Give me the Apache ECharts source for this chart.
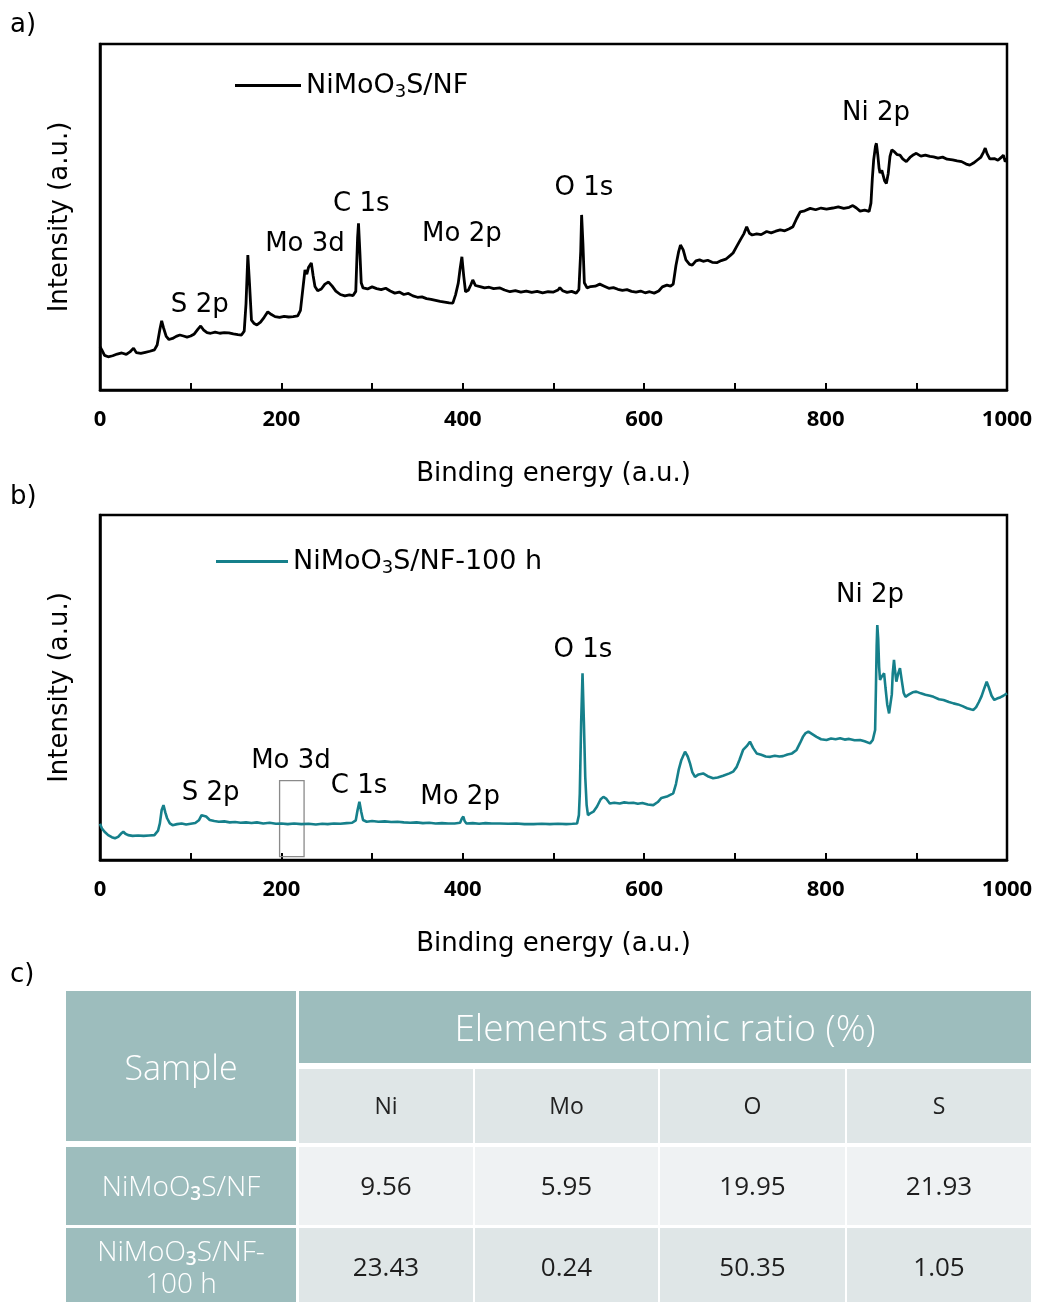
<!DOCTYPE html>
<html>
<head>
<meta charset="utf-8">
<script src="https://cdn.jsdelivr.net/npm/echarts@6/dist/echarts.min.js"></script>
<style>
  html, body { margin: 0; padding: 0; background: #fff; }
  #chart { width: 1041px; height: 1302px; }
</style>
</head>
<body>
<div id="chart"></div>
<script>
// ---- XPS survey spectra: [binding energy, intensity (a.u.)] ----
const surveyFresh = [
  [0, 12.5], [2, 11.6], [5, 10.0], [9, 9.6], [14, 9.9], [19, 10.4], [24, 10.7], [29, 10.3], [33, 11.0], [37, 12.1],
  [40, 10.8], [45, 10.6], [50, 10.9], [55, 11.2], [60, 11.6], [63, 13.0], [66, 17.5], [68, 20.0], [70, 18.0], [73, 15.5],
  [76, 14.6], [80, 14.9], [84, 15.5], [88, 15.9], [92, 15.6], [96, 15.3], [100, 15.6], [104, 16.2], [108, 17.6], [111, 18.5],
  [114, 17.4], [118, 16.6], [122, 16.4], [127, 16.7], [132, 16.4], [137, 16.6], [142, 16.5], [147, 16.2], [152, 16.0], [156, 15.9],
  [159, 17.0], [161, 25.0], [163, 39.0], [165, 30.0], [167, 20.2], [170, 19.2], [173, 18.8], [177, 19.6], [181, 21.0], [185, 22.6],
  [189, 21.8], [193, 21.2], [198, 21.0], [203, 21.3], [208, 21.1], [213, 21.2], [218, 21.4], [221, 23.0], [224, 30.0], [226, 34.7],
  [228, 33.5], [230, 35.5], [233, 36.7], [235, 33.0], [237, 29.9], [240, 28.7], [244, 29.2], [248, 30.6], [252, 31.2], [256, 30.0],
  [260, 28.6], [265, 27.6], [270, 27.2], [275, 27.5], [279, 27.3], [282, 28.5], [284, 44.0], [285, 48.2], [286.5, 40.0], [288, 31.0],
  [290, 29.5], [295, 29.2], [300, 29.8], [305, 29.3], [310, 29.0], [315, 29.4], [320, 28.6], [325, 28.0], [330, 28.3], [335, 27.6],
  [340, 27.9], [345, 27.2], [350, 26.8], [355, 26.9], [360, 26.4], [365, 26.2], [370, 25.9], [375, 25.6], [380, 25.4], [385, 25.2],
  [389, 25.1], [392, 27.5], [395, 30.9], [397, 35.0], [399, 38.5], [401, 33.0], [403, 28.4], [406, 28.8], [409, 30.5], [411, 31.8],
  [414, 30.2], [419, 29.9], [424, 29.5], [429, 29.7], [434, 29.3], [441, 29.5], [446, 28.9], [452, 28.4], [458, 28.7], [464, 28.3],
  [470, 28.6], [476, 28.2], [482, 28.5], [488, 28.1], [494, 28.4], [500, 28.3], [505, 28.9], [507, 29.6], [510, 28.7], [515, 28.2],
  [520, 28.5], [525, 28.0], [528, 29.0], [530, 40.0], [531, 50.6], [532.5, 42.0], [534, 31.0], [537, 29.5], [541, 29.9], [546, 30.0],
  [551, 30.6], [556, 30.0], [561, 29.4], [566, 29.6], [571, 29.1], [576, 28.8], [581, 29.0], [586, 28.5], [591, 28.3], [596, 28.6],
  [601, 28.1], [606, 28.4], [611, 28.0], [616, 28.6], [620, 29.8], [625, 30.3], [629, 30.0], [632, 30.6], [635, 36.0], [638, 40.0],
  [640, 41.9], [643, 40.5], [646, 37.6], [650, 36.3], [653, 36.1], [657, 37.3], [661, 37.6], [665, 37.2], [670, 37.5], [675, 36.9],
  [680, 36.8], [685, 37.4], [690, 37.8], [695, 38.9], [698, 39.6], [702, 41.5], [706, 43.4], [710, 45.2], [713, 47.2], [716, 45.3],
  [719, 44.8], [724, 45.1], [729, 44.9], [735, 45.8], [740, 45.4], [745, 45.9], [750, 46.3], [755, 46.0], [760, 46.6], [764, 47.2],
  [768, 49.5], [772, 51.5], [777, 51.8], [783, 52.5], [789, 52.1], [795, 52.6], [801, 52.3], [808, 52.6], [814, 52.9], [820, 52.5],
  [826, 52.8], [830, 53.3], [832, 53.8], [834, 52.6], [838, 51.7], [843, 52.0], [848, 51.6], [850, 54.0], [851.5, 61.0], [853, 66.5],
  [855, 70.5], [856, 71.3], [857.5, 68.0], [859, 64.0], [860, 62.7], [862, 63.5], [865, 60.5], [867, 59.7], [869, 62.5], [871, 67.5],
  [873, 69.4], [876, 68.8], [879, 68.0], [882, 67.9], [885, 66.8], [889, 66.0], [893, 67.2], [897, 68.0], [900, 68.4], [905, 67.6],
  [910, 67.9], [915, 67.5], [919, 67.4], [924, 67.0], [929, 67.3], [934, 66.7], [940, 66.5], [945, 66.2], [950, 66.0], [955, 65.3],
  [959, 65.0], [963, 65.6], [967, 66.4], [971, 67.2], [974, 68.7], [976, 69.9], [978, 68.3], [981, 66.8], [983, 66.5], [986, 66.9],
  [990, 66.4], [994, 67.3], [996, 67.9], [998, 66.0], [1000, 66.8]
];

const surveyAged = [
  [0, 10.5], [2, 9.2], [5, 8.2], [9, 7.2], [13, 6.6], [16.5, 6.3], [20, 6.7], [23, 7.6], [25.7, 8.2], [28, 7.6],
  [31, 7.2], [36, 7.0], [42, 7.1], [48, 7.0], [54, 7.1], [60, 7.2], [64, 8.5], [66, 10.6], [68, 14.5], [70, 15.9],
  [72, 13.8], [74, 12.1], [77, 10.6], [80, 10.1], [85, 10.4], [90, 10.6], [95, 10.3], [100, 10.5], [105, 10.7], [109, 11.5],
  [112, 13.0], [114, 13.5], [117, 12.6], [121, 11.6], [126, 11.3], [131, 11.1], [137, 11.2], [143, 10.9], [149, 11.0], [155, 10.8],
  [161, 10.9], [167, 10.7], [173, 10.9], [180, 10.6], [187, 10.8], [194, 10.5], [200, 10.6], [207, 10.4], [214, 10.6], [222, 10.4],
  [230, 10.5], [238, 10.3], [245, 10.5], [251, 10.4], [258, 10.6], [265, 10.5], [272, 10.7], [278, 10.8], [282, 11.5], [284, 14.5],
  [286, 16.9], [288, 14.0], [290, 11.6], [294, 11.1], [300, 11.3], [307, 11.1], [314, 11.2], [321, 11.0], [328, 11.1], [335, 10.9],
  [342, 10.8], [349, 10.9], [356, 10.7], [363, 10.8], [370, 10.6], [377, 10.7], [384, 10.6], [391, 10.6], [397, 10.8], [399, 12.0],
  [400.6, 12.6], [402, 11.3], [404, 10.6], [411, 10.7], [418, 10.5], [425, 10.7], [432, 10.6], [441, 10.6], [450, 10.5], [459, 10.6],
  [468, 10.4], [478, 10.4], [487, 10.5], [496, 10.4], [505, 10.5], [514, 10.4], [521, 10.5], [526, 10.6], [528, 13.0], [529, 19.3],
  [530.5, 40.0], [532, 54.1], [533.5, 40.0], [535, 24.1], [536.5, 16.0], [538, 13.0], [541, 13.6], [544, 14.0], [548, 15.5], [552, 17.6],
  [555, 18.3], [558, 17.8], [562, 16.4], [567, 16.6], [573, 16.4], [578, 16.7], [583, 16.5], [588, 16.6], [593, 16.3], [598, 16.5],
  [604, 16.1], [610, 15.9], [615, 16.8], [619, 18.0], [621, 18.3], [626, 18.5], [632, 19.3], [635, 22.0], [638, 26.1], [641, 29.0],
  [645, 31.4], [648, 30.0], [650.5, 28.0], [653, 25.5], [656, 24.1], [660, 24.8], [665, 25.1], [670, 24.3], [676, 23.7], [681, 23.9],
  [687, 24.4], [694, 25.1], [698, 25.6], [702, 27.0], [705, 29.0], [709, 31.9], [713, 33.0], [716.6, 34.3], [720, 32.5], [724, 30.9],
  [729, 30.5], [734, 30.0], [739, 29.9], [744, 30.2], [749, 30.0], [753, 30.1], [758, 30.6], [763, 30.9], [768, 31.9], [772, 34.0],
  [775, 35.7], [778, 36.8], [781, 37.2], [784, 36.7], [787, 36.2], [790, 35.7], [795, 35.0], [801, 34.8], [806, 35.2], [811, 35.0],
  [816, 35.3], [821, 34.9], [826, 35.1], [832, 34.7], [838, 34.8], [843, 34.4], [849, 33.8], [852, 34.8], [854.6, 37.7], [855.5, 50.0],
  [856.3, 62.0], [857, 68.1], [858, 64.0], [859, 56.0], [860, 52.2], [862, 53.2], [864.5, 54.1], [866, 50.0], [868, 45.0], [870, 42.5],
  [871.7, 42.0], [873, 48.0], [874, 54.0], [875.4, 58.0], [876.5, 55.0], [878, 51.7], [880, 54.0], [882, 55.6], [884, 52.0], [886, 48.5],
  [888, 47.3], [892, 48.0], [896, 48.6], [900, 48.8], [905, 48.3], [910, 47.9], [915, 47.6], [919, 47.3], [925, 46.6], [930, 46.4],
  [936, 45.8], [941, 45.4], [946, 45.1], [951, 44.6], [956, 44.0], [960, 43.7], [963, 43.5], [966, 44.3], [969, 45.8], [972, 47.5],
  [975, 49.8], [977.6, 51.7], [980, 50.0], [983, 47.6], [986, 46.4], [989, 46.8], [993, 47.2], [996, 47.6], [1000, 48.3]
];

// Peak assignments: [label, binding energy, intensity]
const peaksFresh = [
  ['S 2p', 110, 24.6], ['Mo 3d', 226, 42.0], ['C 1s', 288, 53.6],
  ['Mo 2p', 399, 45.0], ['O 1s', 533.6, 58.3], ['Ni 2p', 855.6, 80.0]
];
const peaksAged = [
  ['S 2p', 122, 19.3], ['Mo 3d', 210.6, 28.5], ['C 1s', 285.6, 21.3],
  ['Mo 2p', 397, 18.1], ['O 1s', 532.5, 60.7], ['Ni 2p', 849, 76.8]
];
// Highlighted (vanished) Mo 3d window in the aged sample: [E start, E end, I low, I high]
const mo3dWindow = [198, 225, 1, 23];

const seriesNames = ['NiMoO3S/NF', 'NiMoO3S/NF-100 h'];
const energyTicks = [0, 200, 400, 600, 800, 1000];

// ---- Surface composition table ----
const tableSamples = ['NiMoO3S/NF', 'NiMoO3S/NF-100 h'];
const tableElements = ['Ni', 'Mo', 'O', 'S'];
const atomicRatio = [
  [9.56, 5.95, 19.95, 21.93],
  [23.43, 0.24, 50.35, 1.05]
];

const PLOT_FONT = '"DejaVu Sans", "Noto Sans", sans-serif';
const TICK_FONT = '"Open Sans", "Noto Sans", sans-serif';
const TABLE_FONT = '"Open Sans", "Noto Sans", sans-serif';
const TEAL = '#16808b';

function chemRich(name, style) {
  // write the "3" of "O3" as a subscript
  const parts = name.split('O3');
  return '{' + style + '|' + parts[0] + 'O}{s|3}{' + style + '|' + parts[1] + '}';
}

function xAxisOf(gi) {
  return {
    gridIndex: gi, type: 'value', min: 0, max: 1000, interval: 200,
    axisLine: { show: true, onZero: false, lineStyle: { color: '#000', width: 2.5 } },
    axisTick: { show: true, inside: true, length: 7, lineStyle: { color: '#000', width: 2 } },
    minorTick: { show: true, splitNumber: 2, length: 7, lineStyle: { color: '#000', width: 2 } },
    splitLine: { show: false },
    axisLabel: {
      color: '#000', fontSize: 22, fontWeight: 'bold', fontFamily: TICK_FONT, margin: 19,
      formatter: v => energyTicks.indexOf(v) >= 0 ? String(v) : ''
    },
    name: 'Binding energy (a.u.)', nameLocation: 'middle', nameGap: 71,
    nameTextStyle: { color: '#000', fontSize: 26, fontFamily: PLOT_FONT }
  };
}
function yAxisOf(gi) {
  return {
    gridIndex: gi, type: 'value', min: 0, max: 100,
    axisLine: { show: true, lineStyle: { color: '#000', width: 2.5 } },
    axisTick: { show: false }, axisLabel: { show: false }, splitLine: { show: false },
    name: 'Intensity (a.u.)', nameLocation: 'middle', nameGap: 27, nameRotate: 90,
    nameTextStyle: { color: '#000', fontSize: 26, fontFamily: PLOT_FONT }
  };
}
function peakMarks(peaks) {
  return {
    silent: true,
    symbol: 'circle', symbolSize: 1,
    itemStyle: { color: 'rgba(0,0,0,0)' },
    label: { show: true, position: 'inside', color: '#000', fontSize: 26, fontFamily: PLOT_FONT, formatter: p => p.name },
    data: peaks.map(p => ({ name: p[0], coord: [p[1], p[2]] }))
  };
}
const legendRich = {
  n: { fontSize: 27, fontFamily: PLOT_FONT, color: '#000', lineHeight: 32 },
  s: { fontSize: 18, fontFamily: PLOT_FONT, color: '#000', verticalAlign: 'bottom', lineHeight: 22 }
};

// ---- table drawn as graphic elements ----
const tbl = [];
const colX = [[66, 296], [299, 473], [475, 658], [660, 845], [847, 1031]];
const HEAD = '#9dbdbd', SUB = '#dfe6e7', ROW1 = '#eff2f3', ROW2 = '#dfe6e7';
function cell(x0, y0, x1, y1, fill) {
  tbl.push({ type: 'rect', silent: true, shape: { x: x0, y: y0, width: x1 - x0, height: y1 - y0 }, style: { fill: fill } });
}
function label(x, y, text, size, color, rich, weight) {
  tbl.push({
    type: 'text', silent: true, x: x, y: y,
    style: { text: text, fill: color, fontSize: size, fontFamily: TABLE_FONT, fontWeight: weight || 'normal',
             align: 'center', verticalAlign: 'middle', rich: rich }
  });
}
// header
cell(66, 991, 296, 1141, HEAD);
label(181, 1070, 'Sample', 34, '#fff', null, 300);
cell(299, 991, 1031, 1063, HEAD);
label(665, 1030, 'Elements atomic ratio (%)', 37, '#fff', null, 300);
tableElements.forEach((el, i) => {
  const c = colX[i + 1];
  cell(c[0], 1069, c[1], 1143, SUB);
  label((c[0] + c[1]) / 2, 1107, el, 23, '#222', null, 'normal');
});
// body rows
const rowY = [[1147, 1225], [1228, 1310]];
const sampleRich = {
  n: { fontSize: 28, fontFamily: TABLE_FONT, fontWeight: 300, fill: '#fff', lineHeight: 32 },
  s: { fontSize: 19, fontFamily: TABLE_FONT, fontWeight: 600, fill: '#fff', verticalAlign: 'bottom', lineHeight: 22 }
};
tableSamples.forEach((name, r) => {
  const y = rowY[r];
  const yc = r === 0 ? 1188 : 1269;
  cell(colX[0][0], y[0], colX[0][1], y[1], HEAD);
  let txt;
  if (name.indexOf('-') >= 0) {
    const k = name.indexOf('-') + 1;
    txt = chemRich(name.slice(0, k), 'n') + '\n{n|' + name.slice(k) + '}';
  } else {
    txt = chemRich(name, 'n');
  }
  label(181, yc, txt, 28, '#fff', sampleRich);
  atomicRatio[r].forEach((v, i) => {
    const c = colX[i + 1];
    cell(c[0], y[0], c[1], y[1], r === 0 ? ROW1 : ROW2);
    label((c[0] + c[1]) / 2, yc, v.toFixed(2), 26, '#1e1e1e', null, 'normal');
  });
});
// panel tags
['a)', 'b)', 'c)'].forEach((t, i) => {
  tbl.push({ type: 'text', silent: true, x: 10, y: [25, 497, 975][i],
    style: { text: t, fill: '#000', fontSize: 26, fontFamily: PLOT_FONT, verticalAlign: 'middle' } });
});

const chart = echarts.init(document.getElementById('chart'), null, { renderer: 'canvas' });
chart.setOption({
  backgroundColor: '#fff',
  animation: false,
  grid: [
    { left: 100, top: 44, width: 907, height: 346, show: true, borderColor: '#000', borderWidth: 2.5, backgroundColor: 'transparent' },
    { left: 100, top: 515, width: 907, height: 345, show: true, borderColor: '#000', borderWidth: 2.5, backgroundColor: 'transparent' }
  ],
  xAxis: [xAxisOf(0), xAxisOf(1)],
  yAxis: [yAxisOf(0), yAxisOf(1)],
  legend: [
    {
      data: [seriesNames[0]], left: 235, top: 72, padding: 0, icon: 'rect', itemWidth: 66, itemHeight: 3, itemGap: 0,
      textStyle: { rich: legendRich }, formatter: n => chemRich(n, 'n')
    },
    {
      data: [seriesNames[1]], left: 216, top: 548, padding: 0, icon: 'rect', itemWidth: 72, itemHeight: 3, itemGap: 0,
      textStyle: { rich: legendRich }, formatter: n => chemRich(n, 'n')
    }
  ],
  series: [
    {
      name: seriesNames[0], type: 'line', xAxisIndex: 0, yAxisIndex: 0,
      data: surveyFresh, showSymbol: false, symbol: 'none',
      lineStyle: { color: '#000', width: 2.8 }, itemStyle: { color: '#000' },
      markPoint: peakMarks(peaksFresh)
    },
    {
      name: seriesNames[1], type: 'line', xAxisIndex: 1, yAxisIndex: 1,
      data: surveyAged, showSymbol: false, symbol: 'none',
      lineStyle: { color: TEAL, width: 2.6 }, itemStyle: { color: TEAL },
      markPoint: peakMarks(peaksAged),
      markArea: {
        silent: true,
        itemStyle: { color: 'rgba(0,0,0,0)', borderColor: '#8a8a8a', borderWidth: 1.3 },
        data: [[{ coord: [mo3dWindow[0], mo3dWindow[2]] }, { coord: [mo3dWindow[1], mo3dWindow[3]] }]]
      }
    }
  ],
  graphic: tbl
});
</script>
</body>
</html>
